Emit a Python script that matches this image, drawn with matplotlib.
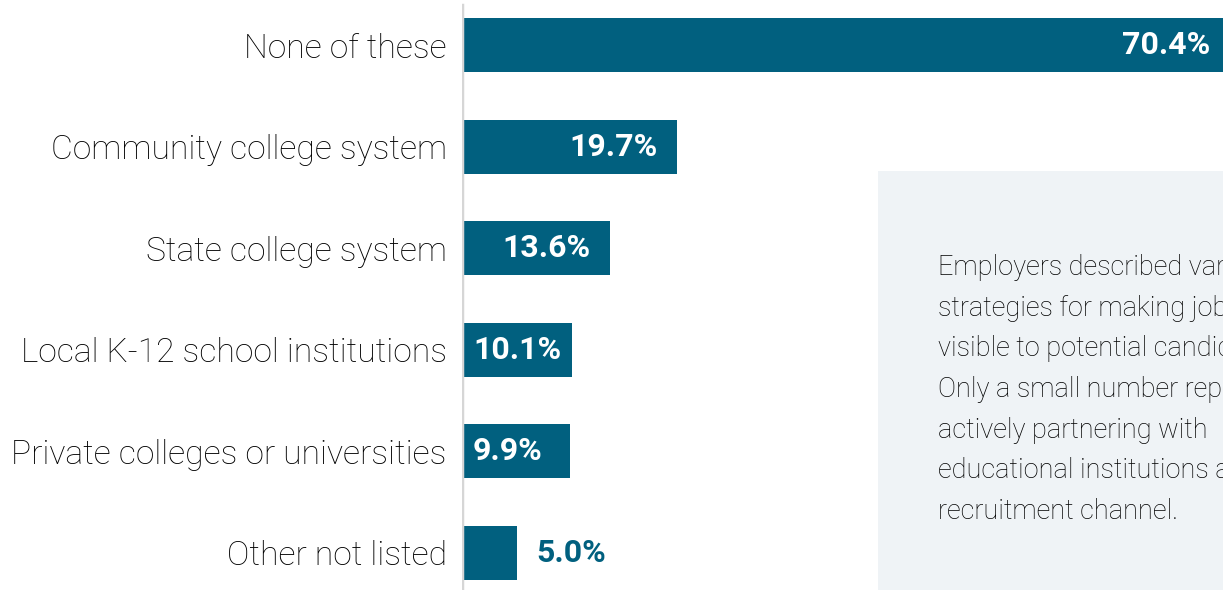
import matplotlib
matplotlib.use("Agg")
import matplotlib.pyplot as plt
from matplotlib.patches import Rectangle

plt.rcParams['font.family'] = ['Roboto', 'DejaVu Sans']

categories = [
    "None of these",
    "Community college system",
    "State college system",
    "Local K-12 school institutions",
    "Private colleges or universities",
    "Other not listed",
]
values = [70.4, 19.7, 13.6, 10.1, 9.9, 5.0]
value_labels = ["70.4%", "19.7%", "13.6%", "10.1%", "9.9%", "5.0%"]
note = ("Employers described various\n"
        "strategies for making jobs\n"
        "visible to potential candidates.\n"
        "Only a small number reported\n"
        "actively partnering with\n"
        "educational institutions as a\n"
        "recruitment channel.")

BAR = "#01607f"
W, H = 1223, 590
fig = plt.figure(figsize=(W / 100, H / 100), dpi=100)
fig.patch.set_facecolor("white")

# side note panel
fig.patches.append(Rectangle((878 / W, 0), (W - 878) / W, (590 - 171) / H,
                             transform=fig.transFigure, facecolor="#eff3f6",
                             edgecolor="none", zorder=0))
fig.text(938 / W, 1 - 254 / H, note, ha="left", va="top", fontsize=19.5,
         fontweight="light", color="#000000", linespacing=1.65)

px_per_unit = 10.91
ax = fig.add_axes([462 / W, 0, 70.4 * px_per_unit / W, 1])
ax.set_facecolor("none")
ypos = list(range(len(categories)))
ax.barh(ypos, values, height=0.53, color=BAR)
ax.set_xlim(0, 70.4)
ax.set_ylim((590 - 45) / 101.6, -45 / 101.6)
for s in ax.spines.values():
    s.set_visible(False)
ax.set_xticks([])
ax.set_yticks(ypos)
ax.set_yticklabels(categories, fontsize=24.2, fontweight="light", color="#000000")
ax.tick_params(axis="y", length=0, pad=11)
ax.axvline(0, ymin=0, ymax=1 - 5 / H, color="#d6d6d6", lw=2.5, zorder=3)

for y, v, lab in zip(ypos, values, value_labels):
    if v >= 12:
        ax.annotate(lab, (v, y), xytext=(-14, 0), textcoords="offset points",
                    ha="right", va="center", color="white", fontsize=23,
                    fontweight="bold", annotation_clip=False)
    elif v >= 8:
        ax.annotate(lab, (0, y), xytext=(8, 0), textcoords="offset points",
                    ha="left", va="center", color="white", fontsize=23,
                    fontweight="bold")
    else:
        ax.annotate(lab, (v, y), xytext=(14, 0), textcoords="offset points",
                    ha="left", va="center", color=BAR, fontsize=23,
                    fontweight="bold")

fig.savefig("out.png", dpi=100)
